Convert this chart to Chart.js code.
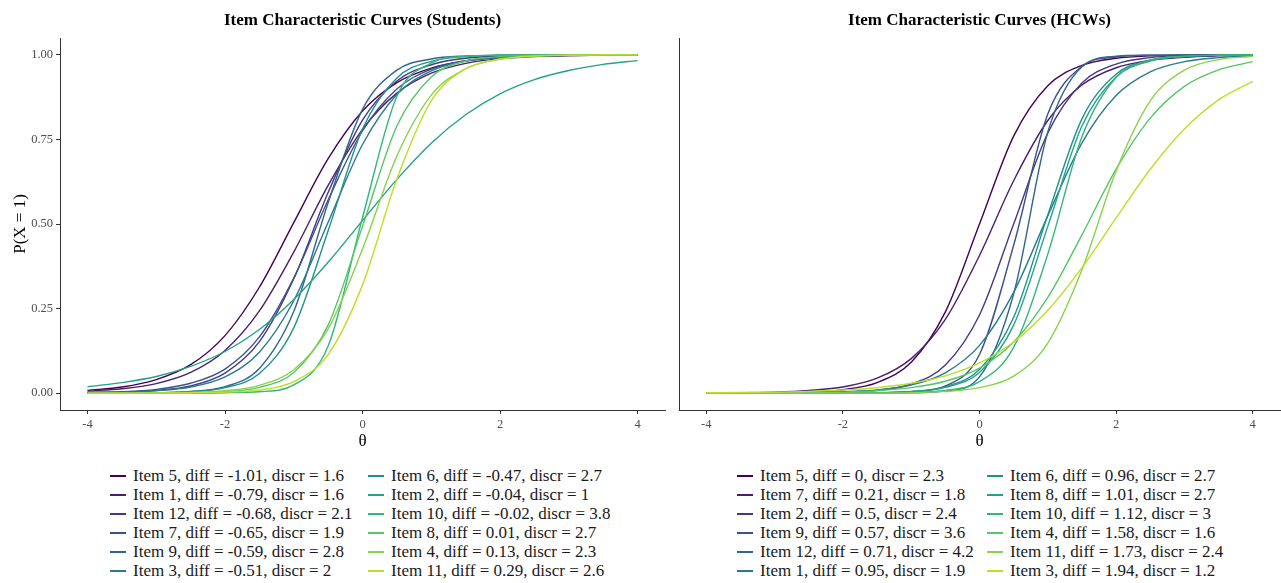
<!DOCTYPE html>
<html>
<head>
<meta charset="utf-8">
<script src="https://cdn.jsdelivr.net/npm/chart.js"></script>
<style>
  body { margin: 0; background: #fff; width: 1281px; height: 583px; overflow: hidden; position: relative; font-family: 'Liberation Serif', 'Times New Roman', serif; }
  canvas { position: absolute; top: 0; }
  #c1 { left: 0; }
  #c2 { left: 678px; }
  .legend { position: absolute; top: 0; left: 0; font-size: 17px; color: #1a1a1a; white-space: nowrap; }
  .entry { position: absolute; height: 19px; line-height: 19px; }
  .key { position: absolute; left: 0; top: 9px; width: 16px; height: 1.6px; }
  .lbl { position: absolute; left: 23px; top: 0; }
</style>
</head>
<body>
<canvas id="c1" width="724" height="460"></canvas>
<canvas id="c2" width="603" height="460"></canvas>
<div id="leg1" class="legend"></div>
<div id="leg2" class="legend"></div>
<script>
// ability grid and axis ticks
var theta = [-4, -3.5, -3, -2.5, -2, -1.5, -1, -0.5, 0, 0.5, 1, 1.5, 2, 2.5, 3, 3.5, 4];
var xTicks = [-4, -2, 0, 2, 4];
var yTicks = [0, 0.25, 0.5, 0.75, 1];

// viridis-like palette, one per legend slot
var colors = ['#440154', '#481F70', '#433A83', '#3C518A', '#32658E', '#297A8E',
              '#22908C', '#22A386', '#34B67A', '#56C667', '#87D34B', '#BDDF26'];

// students
var stItems = [5, 1, 12, 7, 9, 3, 6, 2, 10, 8, 4, 11];
var stDiff = [-1.01, -0.79, -0.68, -0.65, -0.59, -0.51, -0.47, -0.04, -0.02, 0.01, 0.13, 0.29];
var stDiscr = [1.6, 1.6, 2.1, 1.9, 2.8, 2, 2.7, 1, 3.8, 2.7, 2.3, 2.6];
var stCurves = [
  [0.008,0.018,0.040,0.084,0.170,0.313,0.504,0.693,0.834,0.918,0.961,0.982,0.992,0.996,0.998,0.999,1.000],
  [0.006,0.013,0.028,0.061,0.126,0.243,0.417,0.614,0.780,0.887,0.946,0.975,0.989,0.995,0.998,0.999,1.000],
  [0.001,0.003,0.008,0.021,0.059,0.152,0.338,0.593,0.807,0.923,0.971,0.990,0.996,0.999,1.000,1.000,1.000],
  [0.002,0.004,0.011,0.029,0.071,0.166,0.340,0.571,0.775,0.899,0.958,0.983,0.994,0.998,0.999,1.000,1.000],
  [0.000,0.000,0.001,0.005,0.019,0.073,0.241,0.563,0.839,0.955,0.988,0.997,0.999,1.000,1.000,1.000,1.000],
  [0.001,0.003,0.007,0.018,0.048,0.121,0.273,0.505,0.735,0.883,0.953,0.982,0.993,0.998,0.999,1.000,1.000],
  [0.000,0.000,0.001,0.004,0.016,0.058,0.193,0.480,0.781,0.932,0.981,0.995,0.999,1.000,1.000,1.000,1.000],
  [0.019,0.031,0.049,0.079,0.123,0.188,0.277,0.387,0.510,0.632,0.739,0.823,0.885,0.927,0.954,0.972,0.983],
  [0.000,0.000,0.000,0.000,0.001,0.004,0.024,0.139,0.519,0.878,0.976,0.996,0.999,1.000,1.000,1.000,1.000],
  [0.000,0.000,0.000,0.001,0.004,0.017,0.061,0.201,0.493,0.790,0.935,0.982,0.995,0.999,1.000,1.000,1.000],
  [0.000,0.000,0.001,0.002,0.007,0.023,0.069,0.190,0.426,0.701,0.881,0.959,0.987,0.996,0.999,1.000,1.000],
  [0.000,0.000,0.000,0.001,0.003,0.009,0.034,0.114,0.320,0.633,0.864,0.959,0.988,0.997,0.999,1.000,1.000]
];

// health care workers
var hcItems = [5, 7, 2, 9, 12, 1, 6, 8, 10, 4, 11, 3];
var hcDiff = [0, 0.21, 0.5, 0.57, 0.71, 0.95, 0.96, 1.01, 1.12, 1.58, 1.73, 1.94];
var hcDiscr = [2.3, 1.8, 2.4, 3.6, 4.2, 1.9, 2.7, 2.7, 3, 1.6, 2.4, 1.2];
var hcCurves = [
  [0.000,0.000,0.001,0.003,0.010,0.031,0.091,0.240,0.500,0.760,0.909,0.969,0.990,0.997,0.999,1.000,1.000],
  [0.001,0.001,0.003,0.008,0.018,0.044,0.102,0.218,0.407,0.628,0.806,0.911,0.962,0.984,0.993,0.997,0.999],
  [0.000,0.000,0.000,0.001,0.002,0.008,0.027,0.083,0.231,0.500,0.769,0.917,0.973,0.992,0.998,0.999,1.000],
  [0.000,0.000,0.000,0.000,0.000,0.001,0.004,0.021,0.114,0.437,0.825,0.966,0.994,0.999,1.000,1.000,1.000],
  [0.000,0.000,0.000,0.000,0.000,0.000,0.001,0.006,0.048,0.293,0.772,0.965,0.996,0.999,1.000,1.000,1.000],
  [0.000,0.000,0.001,0.001,0.004,0.009,0.024,0.060,0.141,0.298,0.524,0.740,0.880,0.950,0.980,0.992,0.997],
  [0.000,0.000,0.000,0.000,0.000,0.001,0.005,0.019,0.070,0.224,0.527,0.811,0.943,0.985,0.996,0.999,1.000],
  [0.000,0.000,0.000,0.000,0.000,0.001,0.004,0.017,0.061,0.201,0.493,0.790,0.935,0.982,0.995,0.999,1.000],
  [0.000,0.000,0.000,0.000,0.000,0.000,0.002,0.008,0.034,0.135,0.411,0.758,0.933,0.984,0.996,0.999,1.000],
  [0.000,0.000,0.001,0.002,0.003,0.007,0.016,0.035,0.074,0.151,0.283,0.468,0.662,0.813,0.907,0.956,0.980],
  [0.000,0.000,0.000,0.000,0.000,0.000,0.001,0.005,0.016,0.050,0.148,0.365,0.657,0.864,0.955,0.986,0.996],
  [0.001,0.002,0.003,0.005,0.009,0.016,0.029,0.051,0.089,0.151,0.245,0.371,0.518,0.662,0.781,0.867,0.922]
];

var FONT = "'Liberation Serif', 'Times New Roman', serif";
var AXIS = '#333333';

function label(item, d, a) {
  return 'Item ' + item + ', diff = ' + d + ', discr = ' + a;
}

// title centred over the plotting area (not the whole canvas)
var panelTitle = {
  id: 'panelTitle',
  afterDraw: function (chart, args, opts) {
    var c = chart.ctx, a = chart.chartArea;
    c.save();
    c.font = 'bold 17px ' + FONT;
    c.fillStyle = '#000';
    c.textAlign = 'center';
    c.textBaseline = 'middle';
    c.fillText(opts.text, (a.left + a.right) / 2, 21);
    c.restore();
  }
};

function makeSets(curves, items, diff, discr) {
  return curves.map(function (vals, i) {
    return {
      label: label(items[i], diff[i], discr[i]),
      data: vals.map(function (v, k) { return { x: theta[k], y: v }; }),
      borderColor: colors[i],
      borderWidth: 1.4,
      pointRadius: 0,
      fill: false,
      cubicInterpolationMode: 'monotone',
      order: -i
    };
  });
}

function makeChart(id, title, sets, showY) {
  var ctx = document.getElementById(id).getContext('2d');
  return new Chart(ctx, {
    type: 'line',
    data: { datasets: sets },
    plugins: [panelTitle],
    options: {
      responsive: false,
      animation: false,
      events: [],
      layout: { padding: { left: 0, right: showY ? 59 : 1, top: 38, bottom: 0 } },
      plugins: {
        legend: { display: false },
        tooltip: { enabled: false },
        title: { display: false },
        panelTitle: { text: title }
      },
      scales: {
        x: {
          type: 'linear',
          min: -4.4,
          max: 4.4,
          afterBuildTicks: function (s) { s.ticks = xTicks.map(function (v) { return { value: v }; }); },
          afterFit: function (s) { s.height = 50; },
          grid: { display: true, drawOnChartArea: false, drawTicks: true, tickLength: 4, color: AXIS },
          border: { display: true, color: AXIS, width: 1 },
          ticks: { color: '#4d4d4d', font: { family: FONT, size: 12.5 }, padding: 3, maxRotation: 0 },
          title: { display: true, text: 'θ', color: '#000', font: { family: FONT, size: 17 }, padding: { top: 0, bottom: 8 } }
        },
        y: {
          type: 'linear',
          min: -0.05,
          max: 1.05,
          afterBuildTicks: function (s) { s.ticks = yTicks.map(function (v) { return { value: v }; }); },
          afterFit: function (s) { s.width = showY ? 60 : 1; },
          grid: { display: showY, drawOnChartArea: false, drawTicks: true, tickLength: 4, color: AXIS },
          border: { display: true, color: AXIS, width: 1 },
          ticks: {
            display: showY,
            color: '#4d4d4d',
            font: { family: FONT, size: 12.5 },
            padding: 3,
            callback: function (v) { return v.toFixed(2); }
          },
          title: { display: showY, text: 'P(X = 1)', color: '#000', font: { family: FONT, size: 17 }, padding: { top: 10, bottom: 0 } }
        }
      }
    }
  });
}

makeChart('c1', 'Item Characteristic Curves (Students)', makeSets(stCurves, stItems, stDiff, stDiscr), true);
makeChart('c2', 'Item Characteristic Curves (HCWs)', makeSets(hcCurves, hcItems, hcDiff, hcDiscr), false);

// two-column legends under each panel
function buildLegend(id, items, diff, discr, colX, top, step) {
  var box = document.getElementById(id);
  items.forEach(function (it, i) {
    var col = Math.floor(i / 6), row = i % 6;
    var e = document.createElement('div');
    e.className = 'entry';
    e.style.left = colX[col] + 'px';
    e.style.top = (top + row * step) + 'px';
    var k = document.createElement('div');
    k.className = 'key';
    k.style.background = colors[i];
    var t = document.createElement('div');
    t.className = 'lbl';
    t.textContent = label(it, diff[i], discr[i]);
    e.appendChild(k);
    e.appendChild(t);
    box.appendChild(e);
  });
}
buildLegend('leg1', stItems, stDiff, stDiscr, [110, 368], 466, 19);
buildLegend('leg2', hcItems, hcDiff, hcDiscr, [737, 987], 466, 19);
</script>
</body>
</html>
